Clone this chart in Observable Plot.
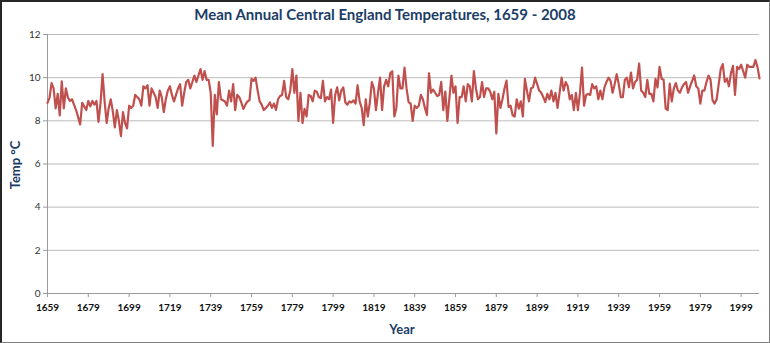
<!DOCTYPE html>
<html>
<head>
<meta charset="utf-8">
<script src="https://cdn.jsdelivr.net/npm/d3@7"></script>
<script src="https://cdn.jsdelivr.net/npm/@observablehq/plot@0.6"></script>
<style>
  html, body { margin: 0; padding: 0; background: #fff; }
  #wrap { position: relative; width: 770px; height: 343px; box-sizing: border-box; overflow: hidden; }
  #frame { position: absolute; left: 0; top: 0; width: 770px; height: 343px; box-sizing: border-box;
           border: 1px solid #7f7f7f; border-top: 2px solid #262626; border-left: 2px solid #262626; pointer-events: none; }
  #title { position: absolute; left: 0; width: 770px; top: 5px; text-align: center;
           font: bold 15px Lato, "Open Sans", sans-serif; color: #1b3d66; }
  #ylab { position: absolute; left: 15px; top: 165px; transform: translate(-50%, -50%) rotate(-90deg);
          font: bold 13px Lato, "Open Sans", sans-serif; color: #1b3d66; white-space: nowrap; }
  #xlab { position: absolute; left: 402px; top: 329px; transform: translate(-50%, -50%);
          font: bold 13px Lato, "Open Sans", sans-serif; color: #1b3d66; }
  svg { position: absolute; left: 0; top: 0; }
</style>
</head>
<body>
<div id="wrap">
  <div id="chart"></div>
  <div id="title">Mean Annual Central England Temperatures, 1659 - 2008</div>
  <div id="ylab">Temp °C</div>
  <div id="xlab">Year</div>
  <div id="frame"></div>
</div>
<script>
// Mean annual temperature (°C), one value per year starting at firstYear
const firstYear = 1659;
const temps = [
  8.83, 9.08, 9.75, 9.50, 8.58, 9.25, 8.25, 9.83, 8.58, 9.50,   // 1659-1668
  9.08, 8.92, 9.00, 8.75, 8.50, 8.17, 7.83, 8.83, 8.67, 8.50,   // 1669-1678
  8.92, 8.67, 8.92, 8.75, 8.92, 7.95, 8.83, 10.17, 8.90, 7.90,  // 1679-1688
  8.60, 9.00, 8.45, 7.70, 8.50, 8.00, 7.29, 8.40, 7.90, 7.65,   // 1689-1698
  8.70, 8.60, 8.70, 9.20, 9.10, 9.00, 8.70, 9.60, 9.50, 9.65,   // 1699-1708
  8.70, 9.50, 9.30, 9.10, 8.60, 9.40, 9.10, 8.40, 9.00, 9.40,   // 1709-1718
  9.60, 9.20, 8.90, 9.20, 9.50, 9.70, 8.70, 9.30, 9.80, 9.90,   // 1719-1728
  9.50, 9.80, 10.10, 9.80, 10.10, 10.40, 9.90, 10.30, 9.90, 9.90, // 1729-1738
  9.30, 6.84, 9.20, 8.30, 9.80, 9.00, 8.95, 8.90, 8.70, 9.40,   // 1739-1748
  8.90, 9.70, 8.50, 9.20, 9.10, 8.85, 8.55, 8.75, 8.90, 8.95,   // 1749-1758
  9.95, 9.85, 10.00, 9.40, 8.90, 8.75, 8.50, 8.60, 8.70, 8.85,  // 1759-1768
  8.60, 8.80, 8.50, 9.00, 9.15, 9.20, 9.85, 9.10, 9.00, 9.40,   // 1769-1778
  10.40, 9.30, 10.10, 8.00, 9.30, 7.90, 8.55, 8.20, 9.20, 9.15, // 1779-1788
  8.90, 9.40, 9.35, 9.10, 9.05, 9.85, 8.90, 9.10, 9.00, 9.45,   // 1789-1798
  7.90, 9.20, 9.55, 8.95, 9.40, 9.55, 8.85, 8.75, 8.90, 8.85,   // 1799-1808
  8.95, 8.80, 9.65, 8.90, 8.60, 7.80, 9.00, 8.20, 8.85, 9.80,   // 1809-1818
  9.50, 8.50, 9.30, 10.00, 8.50, 9.60, 9.90, 9.60, 10.20, 10.30, // 1819-1828
  8.20, 8.60, 10.10, 9.50, 9.50, 10.47, 9.50, 8.87, 8.80, 8.00, // 1829-1838
  8.70, 8.60, 8.70, 9.20, 9.00, 8.60, 8.27, 10.20, 9.30, 9.45,  // 1839-1848
  9.30, 9.15, 9.20, 9.80, 8.50, 9.35, 8.00, 9.05, 10.10, 9.30,  // 1849-1858
  9.60, 7.90, 9.10, 9.10, 9.60, 8.90, 9.70, 9.60, 8.90, 10.30,  // 1859-1868
  9.50, 9.00, 9.10, 9.80, 9.10, 9.50, 9.50, 9.35, 9.00, 9.35,   // 1869-1878
  7.42, 9.25, 8.60, 9.00, 9.50, 9.86, 8.64, 8.70, 8.26, 8.20,   // 1879-1888
  9.00, 8.56, 8.90, 8.20, 9.94, 9.40, 8.90, 9.50, 9.55, 10.00,  // 1889-1898
  9.70, 9.40, 9.30, 9.10, 8.87, 9.25, 9.00, 9.40, 8.90, 9.30,   // 1899-1908
  8.60, 9.30, 10.00, 9.40, 9.80, 9.60, 9.00, 9.20, 8.50, 9.30,  // 1909-1918
  8.50, 9.30, 10.47, 8.70, 9.20, 9.25, 9.20, 9.70, 9.50, 9.60,  // 1919-1928
  9.00, 9.40, 9.00, 9.55, 9.80, 10.00, 9.85, 9.30, 9.70, 10.16, // 1929-1938
  9.70, 9.10, 9.10, 9.90, 10.00, 9.55, 10.24, 9.50, 9.80, 9.90, // 1939-1948
  10.65, 9.40, 9.30, 9.10, 9.90, 9.25, 9.25, 8.90, 9.95, 9.55,  // 1949-1958
  10.50, 9.95, 9.90, 8.57, 8.50, 9.72, 8.90, 9.50, 9.75, 9.40,  // 1959-1968
  9.30, 9.55, 9.70, 9.80, 9.30, 9.60, 9.85, 10.10, 9.60, 9.50,  // 1969-1978
  8.80, 9.40, 9.40, 9.80, 10.10, 9.90, 8.95, 8.80, 9.00, 9.70,  // 1979-1988
  10.40, 10.63, 9.80, 9.95, 9.60, 10.20, 10.55, 9.20, 10.50, 10.40, // 1989-1998
  10.60, 10.30, 10.00, 10.60, 10.50, 10.50, 10.50, 10.82, 10.50, 9.97 // 1999-2008
];
const xTickYears = [1659, 1679, 1699, 1719, 1739, 1759, 1779, 1799, 1819, 1839, 1859, 1879, 1899, 1919, 1939, 1959, 1979, 1999];
const yTicks = [0, 2, 4, 6, 8, 10, 12];

const data = temps.map((t, i) => ({year: firstYear + i, temp: t}));

const chart = Plot.plot({
  width: 770,
  height: 343,
  marginLeft: 47,
  marginRight: 11,
  marginTop: 34,
  marginBottom: 50,
  style: {background: "transparent", fontFamily: "Lato, 'Open Sans', sans-serif"},
  x: {domain: [firstYear, firstYear + temps.length - 1]},
  y: {domain: [0, 12]},
  marks: [
    Plot.gridY(yTicks.filter(d => d > 0), {stroke: "#bcbcbc", strokeOpacity: 1, strokeWidth: 1}),
    Plot.ruleY([0], {stroke: "#9a9a9a", strokeWidth: 1}),
    Plot.ruleX([firstYear], {stroke: "#9a9a9a", strokeWidth: 1}),
    Plot.axisY(yTicks, {tickSize: 4, stroke: "#9a9a9a", tickPadding: 3, fontSize: 10, fill: "#333", label: null}),
    Plot.axisX(xTickYears, {tickSize: 4, stroke: "#9a9a9a", tickPadding: 6, fontSize: 10, fontWeight: "bold", fill: "#111", tickFormat: d => String(d), label: null}),
    Plot.line(data, {x: "year", y: "temp", stroke: "#c0504d", strokeWidth: 2.2, strokeLinejoin: "round"})
  ]
});
document.getElementById("chart").appendChild(chart);
</script>
</body>
</html>
